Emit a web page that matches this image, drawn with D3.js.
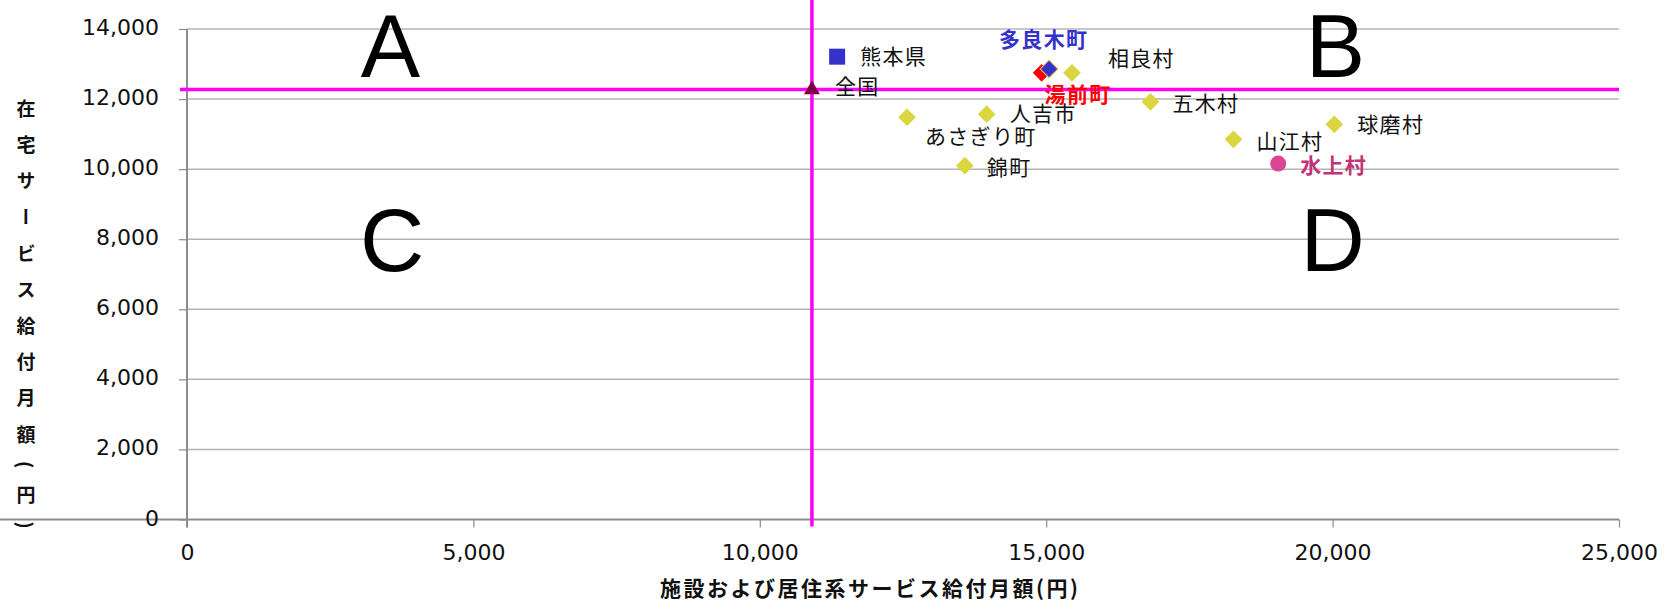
<!DOCTYPE html>
<html><head><meta charset="utf-8">
<script src="https://cdn.jsdelivr.net/npm/d3@7"></script>
<style>
html,body{margin:0;padding:0;background:#fff;}
svg{display:block;}
</style></head>
<body>
<svg id="chart" width="1664" height="600"></svg>
<script>
// ---- data ----
const categories = ['熊本県','全国','多良木町','湯前町','相良村','人吉市','あさぎり町','錦町','五木村','球磨村','山江村','水上村'];
const facilityValues = [11350, 10910, 15050, 14920, 15450, 13960, 12570, 13580, 16820, 20030, 18270, 19050];
const homeValues     = [13210, 12270, 12860, 12750, 12750, 11570, 11480, 10100, 11920, 11280, 10850, 10160];
const xTicks = [0, 5000, 10000, 15000, 20000, 25000];
const yTicks = [0, 2000, 4000, 6000, 8000, 10000, 12000, 14000];
const quadrantLabels = ['A', 'B', 'C', 'D'];
const quadrantX = [3550, 20050, 3580, 20000];
const quadrantY = [12630, 12630, 7100, 7100];
const xTitle = '施設および居住系サービス給付月額(円)';
const yTitle = '在宅サービス給付月額(円)';

// ---- styles ----
const markerShape = ['square','triangle','diamond','diamond','diamond','diamond','diamond','diamond','diamond','diamond','diamond','circle'];
const markerColor = ['#3333CC','#800040','#3333CC','#FF0000','#D9D63F','#D9D63F','#D9D63F','#D9D63F','#D9D63F','#D9D63F','#D9D63F','#DB4596'];
const labelColor  = ['#111','#111','#3333CC','#FF0000','#111','#111','#111','#111','#111','#111','#111','#C23479'];
const labelBold   = [false,false,true,true,false,false,false,false,false,false,false,true];
const labelDx     = [23, 23, -50, 3, 36, 23, 18, 22, 22, 23, 23, 22];
const labelDy     = [-2, -5, -31, 20, -16, -2, 18, 0, 0, -1, 1, 0];
const drawOrder   = [0, 3, 2, 4, 5, 6, 7, 8, 9, 10, 11, 1];

const svg = d3.select('#chart');
const x = d3.scaleLinear().domain([0, 25000]).range([187, 1619]);
const y = d3.scaleLinear().domain([0, 14000]).range([519.5, 29]);

// gridlines
svg.append('g').selectAll('line').data(yTicks.filter(d => d > 0)).join('line')
  .attr('x1', x(0)).attr('x2', x(25000))
  .attr('y1', d => y(d)).attr('y2', d => y(d))
  .attr('stroke', '#B4B4B4').attr('stroke-width', 1.5);

// axes
const fmt = d3.format(',');
const xAxis = svg.append('g').attr('transform', `translate(0,${y(0)})`)
  .call(d3.axisBottom(x).tickValues(xTicks).tickFormat(fmt).tickSize(8).tickPadding(17));
const yAxis = svg.append('g').attr('transform', `translate(${x(0)},0)`)
  .call(d3.axisLeft(y).tickValues(yTicks).tickFormat(fmt).tickSize(8).tickPadding(20));
[xAxis, yAxis].forEach(a => {
  a.select('.domain').attr('stroke', '#8C8C8C').attr('stroke-width', 2);
  a.selectAll('.tick line').attr('stroke', '#8C8C8C').attr('stroke-width', 1.2);
  a.selectAll('.tick text').attr('fill', '#111').style('font-family', '"DejaVu Sans", Verdana, sans-serif').style('font-size', '22px');
});
yAxis.select('.domain').attr('d', `M0,${y(14000)}V${y(0)+8}`);
xAxis.select('.domain').attr('d', `M0,0H${x(25000)}`);
yAxis.selectAll('.tick text').attr('dy', '0.25em');

// reference lines (全国)
const refX = facilityValues[1], refY = homeValues[1];
svg.append('line').attr('x1', 180).attr('x2', x(25000)).attr('y1', y(refY)).attr('y2', y(refY))
  .attr('stroke', '#FF00FF').attr('stroke-width', 3.5);
svg.append('line').attr('x1', x(refX)).attr('x2', x(refX)).attr('y1', 0).attr('y2', y(0) + 7)
  .attr('stroke', '#FF00FF').attr('stroke-width', 3.5);

// quadrant letters
svg.append('g').selectAll('text').data(quadrantLabels).join('text')
  .attr('x', (d, i) => x(quadrantX[i])).attr('y', (d, i) => y(quadrantY[i]))
  .attr('text-anchor', 'middle')
  .style('font-family', '"Liberation Sans", Arial, sans-serif').style('font-size', '89px')
  .attr('fill', '#000').text(d => d);

// markers
const symbolFor = s => s === 'square' ? d3.symbol(d3.symbolSquare, 256)
  : s === 'triangle' ? d3.symbol(d3.symbolTriangle, 110)
  : s === 'circle' ? d3.symbol(d3.symbolCircle, 201)
  : d3.symbol(d3.symbolSquare, 156);
svg.append('g').selectAll('path').data(drawOrder).join('path')
  .attr('d', i => symbolFor(markerShape[i])())
  .attr('transform', i => `translate(${x(facilityValues[i])},${y(homeValues[i])})` + (markerShape[i] === 'diamond' ? ' rotate(45)' : ''))
  .attr('fill', i => markerColor[i])
  .attr('stroke', i => i === 2 ? '#E0C850' : 'none').attr('stroke-width', 1);

// data labels
svg.append('g').selectAll('text').data(categories).join('text')
  .attr('x', (d, i) => x(facilityValues[i]) + labelDx[i])
  .attr('y', (d, i) => y(homeValues[i]) + labelDy[i])
  .attr('dominant-baseline', 'central')
  .attr('fill', (d, i) => labelColor[i])
  .style('font-weight', (d, i) => labelBold[i] ? 'bold' : 'normal')
  .style('font-family', '"Noto Sans CJK JP", sans-serif').style('font-size', '21px')
  .style('letter-spacing', '1.3px')
  .text(d => d);

// axis titles
svg.append('text').attr('x', 869).attr('y', 587).attr('text-anchor', 'middle').attr('dominant-baseline', 'central')
  .style('font-family', '"Noto Sans CJK JP", sans-serif').style('font-weight', 'bold').style('font-size', '21px')
  .attr('textLength', 418).attr('lengthAdjust', 'spacing')
  .attr('fill', '#111').text(xTitle);
svg.append('text').attr('x', 26).attr('y', 99)
  .style('writing-mode', 'vertical-rl').style('letter-spacing', '17.2px')
  .style('font-family', '"Noto Sans CJK JP", sans-serif').style('font-weight', 'bold').style('font-size', '19px')
  .attr('fill', '#111').text(yTitle);
</script>
</body></html>
